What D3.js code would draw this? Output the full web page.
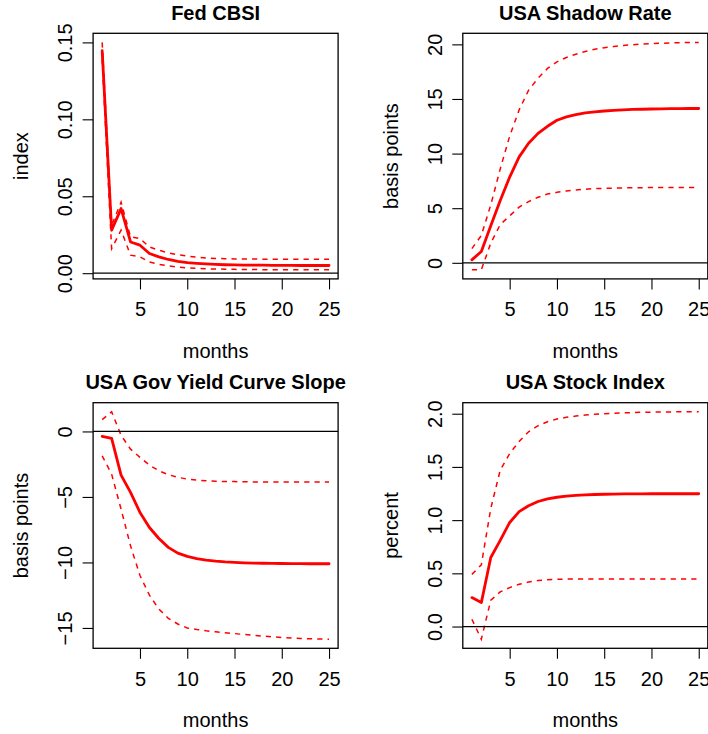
<!DOCTYPE html>
<html>
<head>
<meta charset="utf-8">
<script src="https://cdn.jsdelivr.net/npm/d3@7"></script>
<style>
  body { margin: 0; background: #fff; }
  text { font-family: "Liberation Sans", Arial, sans-serif; fill: #000; }
</style>
</head>
<body>
<div id="chart"></div>
<script>

var svgWidth = 708;
var svgHeight = 734;

// size of one cell of the 2x2 grid and the plot box inside it
var panelW = 369.7;
var panelH = 369.4;
var margin = {top: 33.3, left: 93.1};
var width = 245;
var height = 245.6;

var months = [1, 2, 3, 4, 5, 6, 7, 8, 9, 10, 11, 12, 13, 14, 15, 16, 17, 18, 19, 20, 21, 22, 23, 24, 25];
var xTicks = [5, 10, 15, 20, 25];

var titles = ["Fed CBSI", "USA Shadow Rate", "USA Gov Yield Curve Slope", "USA Stock Index"];
var yLabels = ["index", "basis points", "basis points", "percent"];
var xLabel = "months";

// Fed CBSI
var cbsiMean  = [0.1446, 0.0279, 0.0420, 0.0203, 0.0182, 0.0128, 0.0106, 0.0089, 0.0077, 0.0069, 0.0064, 0.0060, 0.0057, 0.0055, 0.0054, 0.0053, 0.0052, 0.0052, 0.0051, 0.0051, 0.0051, 0.0050, 0.0050, 0.0050, 0.0050];
var cbsiUpper = [0.1500, 0.0310, 0.0462, 0.0236, 0.0225, 0.0170, 0.0149, 0.0132, 0.0120, 0.0111, 0.0104, 0.0099, 0.0096, 0.0094, 0.0093, 0.0092, 0.0092, 0.0091, 0.0091, 0.0091, 0.0091, 0.0091, 0.0091, 0.0091, 0.0091];
var cbsiLower = [0.1390, 0.0160, 0.0280, 0.0117, 0.0106, 0.0073, 0.0058, 0.0047, 0.0040, 0.0035, 0.0031, 0.0029, 0.0027, 0.0026, 0.0025, 0.0024, 0.0024, 0.0023, 0.0023, 0.0023, 0.0022, 0.0022, 0.0022, 0.0022, 0.0022];
var cbsiTicks = [0, 0.05, 0.10, 0.15];

// USA Shadow Rate
var shadowMean  = [0.27, 1.04, 3.4, 5.7, 7.85, 9.7, 10.95, 11.85, 12.5, 13.05, 13.36, 13.57, 13.72, 13.82, 13.9, 13.96, 14.0, 14.04, 14.06, 14.08, 14.1, 14.11, 14.12, 14.13, 14.13];
var shadowUpper = [1.3, 2.5, 5.3, 8.6, 11.6, 14.0, 15.8, 16.9, 17.8, 18.4, 18.8, 19.1, 19.35, 19.55, 19.7, 19.8, 19.9, 19.97, 20.03, 20.07, 20.1, 20.13, 20.15, 20.17, 20.18];
var shadowLower = [-0.64, -0.64, 1.8, 3.5, 4.3, 5.1, 5.6, 6.0, 6.3, 6.45, 6.58, 6.67, 6.74, 6.79, 6.82, 6.84, 6.86, 6.87, 6.88, 6.89, 6.9, 6.9, 6.9, 6.9, 6.9];
var shadowTicks = [0, 5, 10, 15, 20];

// USA Gov Yield Curve Slope
var slopeMean  = [-0.38, -0.53, -3.33, -4.65, -6.18, -7.33, -8.17, -8.85, -9.29, -9.54, -9.7, -9.82, -9.9, -9.96, -10.0, -10.03, -10.05, -10.06, -10.07, -10.08, -10.09, -10.09, -10.1, -10.1, -10.1];
var slopeUpper = [0.9, 1.5, -0.3, -1.35, -1.98, -2.57, -3.0, -3.3, -3.5, -3.64, -3.72, -3.77, -3.8, -3.82, -3.83, -3.84, -3.85, -3.85, -3.86, -3.86, -3.86, -3.86, -3.86, -3.86, -3.86];
var slopeLower = [-1.86, -3.26, -5.93, -8.73, -11.0, -12.5, -13.56, -14.27, -14.7, -15.0, -15.12, -15.22, -15.3, -15.37, -15.43, -15.5, -15.56, -15.62, -15.68, -15.73, -15.77, -15.8, -15.83, -15.85, -15.86];
var slopeTicks = [-15, -10, -5, 0];

// USA Stock Index
var stockMean  = [0.272, 0.225, 0.649, 0.81, 0.978, 1.08, 1.135, 1.175, 1.2, 1.215, 1.226, 1.233, 1.238, 1.241, 1.243, 1.245, 1.246, 1.247, 1.247, 1.248, 1.248, 1.248, 1.248, 1.248, 1.248];
var stockUpper = [0.49, 0.58, 1.11, 1.47, 1.625, 1.74, 1.83, 1.887, 1.925, 1.95, 1.966, 1.978, 1.987, 1.994, 2.0, 2.004, 2.008, 2.011, 2.013, 2.015, 2.016, 2.017, 2.018, 2.018, 2.018];
var stockLower = [0.069, -0.119, 0.247, 0.326, 0.366, 0.397, 0.418, 0.432, 0.44, 0.444, 0.446, 0.447, 0.447, 0.447, 0.447, 0.447, 0.447, 0.447, 0.447, 0.447, 0.447, 0.447, 0.447, 0.447, 0.447];
var stockTicks = [0, 0.5, 1.0, 1.5, 2.0];

var panels = [
    {mean: cbsiMean, upper: cbsiUpper, lower: cbsiLower, ticks: cbsiTicks, fmt: ".2f"},
    {mean: shadowMean, upper: shadowUpper, lower: shadowLower, ticks: shadowTicks, fmt: "d"},
    {mean: slopeMean, upper: slopeUpper, lower: slopeLower, ticks: slopeTicks, fmt: "d"},
    {mean: stockMean, upper: stockUpper, lower: stockLower, ticks: stockTicks, fmt: ".1f"}
];

var svg = d3.select("#chart")
    .append("svg")
        .attr("width", svgWidth)
        .attr("height", svgHeight);

// R style: axis range padded by 4% on each side
var x = d3.scaleLinear()
    .domain([1 - 0.04 * 24, 25 + 0.04 * 24])
    .range([0, width]);

panels.forEach(function(p, i) {
    var col = i % 2,
        row = Math.floor(i / 2);

    var chartGroup = svg.append("g")
        .attr("transform", `translate(${col * panelW + margin.left}, ${row * panelH + margin.top})`);

    var all = p.mean.concat(p.upper, p.lower);
    var lo = d3.min(all), hi = d3.max(all), pad = (hi - lo) * 0.04;
    var y = d3.scaleLinear()
        .domain([lo - pad, hi + pad])
        .range([height, 0]);

    var valueline = d3.line()
        .x(function(d, j) { return x(months[j]); })
        .y(function(d) { return y(d); });

    chartGroup.append("path")        // point estimate
        .attr("d", valueline(p.mean))
        .style("fill", "none")
        .style("stroke", "#ff0000")
        .style("stroke-width", 2.8)
        .style("stroke-linejoin", "round")
        .style("stroke-linecap", "round");

    [p.upper, p.lower].forEach(function(band) {   // confidence bands
        chartGroup.append("path")
            .attr("d", valueline(band))
            .style("fill", "none")
            .style("stroke", "#ff0000")
            .style("stroke-width", 1.5)
            .style("stroke-dasharray", "5.2,5.1");
    });

    chartGroup.append("line")        // zero line
        .attr("x1", 0)
        .attr("x2", width)
        .attr("y1", y(0))
        .attr("y2", y(0))
        .style("stroke", "#000")
        .style("stroke-width", 1.2);

    chartGroup.append("rect")        // plot box
        .attr("width", width)
        .attr("height", height)
        .style("fill", "none")
        .style("stroke", "#000")
        .style("stroke-width", 1.3);

    var xAxis = d3.axisBottom(x).tickValues(xTicks).tickFormat(d3.format("d")).tickSize(10.5);
    var yAxis = d3.axisLeft(y).tickValues(p.ticks).tickFormat(d3.format(p.fmt)).tickSize(10.5);

    var gx = chartGroup.append("g")
        .attr("transform", "translate(0," + height + ")")
        .call(xAxis);
    gx.select(".domain").remove();
    gx.selectAll("line").style("stroke", "#000").style("stroke-width", 1.1);
    gx.selectAll("text")
        .attr("y", 37.6)
        .attr("dy", 0)
        .style("font-size", "20px")
        .style("font-family", "'Liberation Sans', Arial, sans-serif");

    var gy = chartGroup.append("g")
        .call(yAxis);
    gy.select(".domain").remove();
    gy.selectAll("line").style("stroke", "#000").style("stroke-width", 1.1);
    gy.selectAll("text")
        .attr("x", 0)
        .attr("y", -20.8)
        .attr("dy", 0)
        .attr("transform", "rotate(-90)")
        .style("text-anchor", "middle")
        .style("font-size", "20px")
        .style("font-family", "'Liberation Sans', Arial, sans-serif");

    chartGroup.append("text")        // title
        .attr("x", width / 2)
        .attr("y", 20 - margin.top)
        .style("text-anchor", "middle")
        .style("font-size", "20px")
        .style("font-weight", "bold")
        .text(titles[i]);

    chartGroup.append("text")        // x label
        .attr("x", width / 2)
        .attr("y", 324.5)
        .style("text-anchor", "middle")
        .style("font-size", "20px")
        .text(xLabel);

    chartGroup.append("text")        // y label
        .attr("transform", `translate(${28.3 - margin.left}, ${height / 2}) rotate(-90)`)
        .style("text-anchor", "middle")
        .style("font-size", "20px")
        .text(yLabels[i]);
});

</script>
</body>
</html>
